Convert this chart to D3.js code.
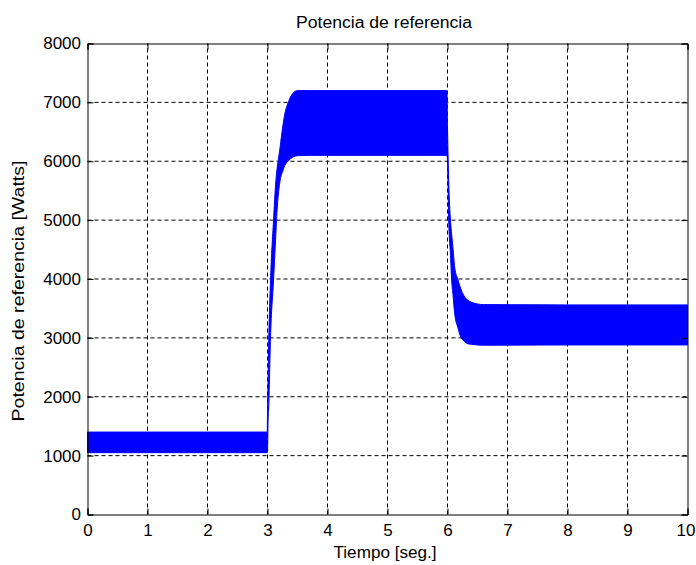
<!DOCTYPE html>
<html>
<head>
<meta charset="utf-8">
<script src="https://cdn.jsdelivr.net/npm/d3@7"></script>
<style>
  html, body { margin: 0; padding: 0; background: #fff; }
  svg { display: block; }
  text { font-family: "Liberation Sans", Arial, sans-serif; fill: #000; }
</style>
</head>
<body>
<svg id="chart" width="696" height="565"></svg>
<script>
// ---- data ----
const title = "Potencia de referencia";
const xLabel = "Tiempo [seg.]";
const yLabel = "Potencia de referencia [Watts]";
const xTicks = [0, 1, 2, 3, 4, 5, 6, 7, 8, 9, 10];
const yTicks = [0, 1000, 2000, 3000, 4000, 5000, 6000, 7000, 8000];

// envelope of the oscillating signal: time (s), upper and lower bounds (W)
const time  = [0,    2.995, 3.0,  3.01, 3.02, 3.05, 3.1,  3.14, 3.15, 3.21, 3.25, 3.29, 3.35, 3.42, 3.5,  3.7,  5.0,  5.99, 6.0,  6.02, 6.05, 6.07, 6.09, 6.12, 6.18, 6.2,  6.29, 6.34, 6.4,  6.6,  8.0,  10];
const upper = [1400, 1400,  1700, 2300, 2900, 3970, 4990, 5670, 5780, 6240, 6560, 6810, 7010, 7150, 7200, 7200, 7200, 7200, 6575, 5670, 4990, 4750, 4540, 4200, 3970, 3900, 3690, 3640, 3605, 3565, 3560, 3560];
const lower = [1050, 1050,  1050, 1600, 1800, 3000, 3970, 4780, 4990, 5670, 5820, 5930, 6010, 6070, 6095, 6100, 6100, 6100, 6000, 4990, 4400, 3970, 3750, 3410, 3150, 3070, 2930, 2900, 2890, 2875, 2880, 2880];

// ---- chart ----
const svg = d3.select("#chart");
const x = d3.scaleLinear().domain([0, 10]).range([87.5, 687.5]);
const y = d3.scaleLinear().domain([0, 8000]).range([514.5, 43.5]);

const data = time.map((t, i) => ({ t, hi: upper[i], lo: lower[i] }));

// grid
const grid = svg.append("g");
grid.selectAll("line.gx").data(xTicks.slice(1, -1)).join("line")
  .attr("x1", d => x(d)).attr("x2", d => x(d))
  .attr("y1", y(0)).attr("y2", y(8000))
  .attr("stroke", "#000").attr("stroke-width", 1).attr("stroke-dasharray", "4,3");
grid.selectAll("line.gy").data(yTicks.slice(1, -1)).join("line")
  .attr("y1", d => y(d)).attr("y2", d => y(d))
  .attr("x1", x(0)).attr("x2", x(10))
  .attr("stroke", "#000").attr("stroke-width", 1).attr("stroke-dasharray", "4,3");

// signal band
const area = d3.area().curve(d3.curveMonotoneX)
  .x(d => x(d.t)).y0(d => y(d.lo)).y1(d => y(d.hi));
svg.append("path").datum(data).attr("d", area)
  .attr("fill", "#0000ff").attr("stroke", "#0000ff").attr("stroke-width", 1);

// axes (ticks inward, box)
const tl = 6;
const xb = d3.axisBottom(x).tickValues(xTicks).tickSize(-tl).tickPadding(9.5).tickFormat(d3.format("d"));
const xt = d3.axisTop(x).tickValues(xTicks).tickSize(-tl).tickFormat("");
const yl = d3.axisLeft(y).tickValues(yTicks).tickSize(-tl).tickPadding(6.5).tickFormat(d3.format("d"));
const yr = d3.axisRight(y).tickValues(yTicks).tickSize(-tl).tickFormat("");

function style(g) {
  g.select(".domain").attr("stroke", "#000").attr("stroke-width", 1);
  g.selectAll(".tick line").attr("stroke", "#000");
  g.selectAll(".tick text").attr("font-family", "Liberation Sans, Arial, sans-serif").attr("font-size", 17).attr("fill", "#000");
}
const gxb = svg.append("g").attr("transform", `translate(0,${y(0)})`).call(xb).call(style);
// keep the last x label inside the window
gxb.selectAll(".tick text").filter(d => d === 10).attr("text-anchor", "end").attr("x", 7.5);
svg.append("g").attr("transform", `translate(0,${y(8000)})`).call(xt).call(style);
svg.append("g").attr("transform", `translate(${x(0)},0)`).call(yl).call(style);
svg.append("g").attr("transform", `translate(${x(10)},0)`).call(yr).call(style);

// titles
svg.append("text").attr("x", 384).attr("y", 28).attr("text-anchor", "middle")
  .attr("font-size", 16).attr("textLength", 176).attr("lengthAdjust", "spacingAndGlyphs").text(title);
svg.append("text").attr("x", 385).attr("y", 558).attr("text-anchor", "middle")
  .attr("font-size", 16).attr("textLength", 103).attr("lengthAdjust", "spacingAndGlyphs").text(xLabel);
svg.append("text").attr("transform", "translate(23.5,291) rotate(-90)").attr("text-anchor", "middle")
  .attr("font-size", 16).attr("textLength", 261).attr("lengthAdjust", "spacingAndGlyphs").text(yLabel);
</script>
</body>
</html>
